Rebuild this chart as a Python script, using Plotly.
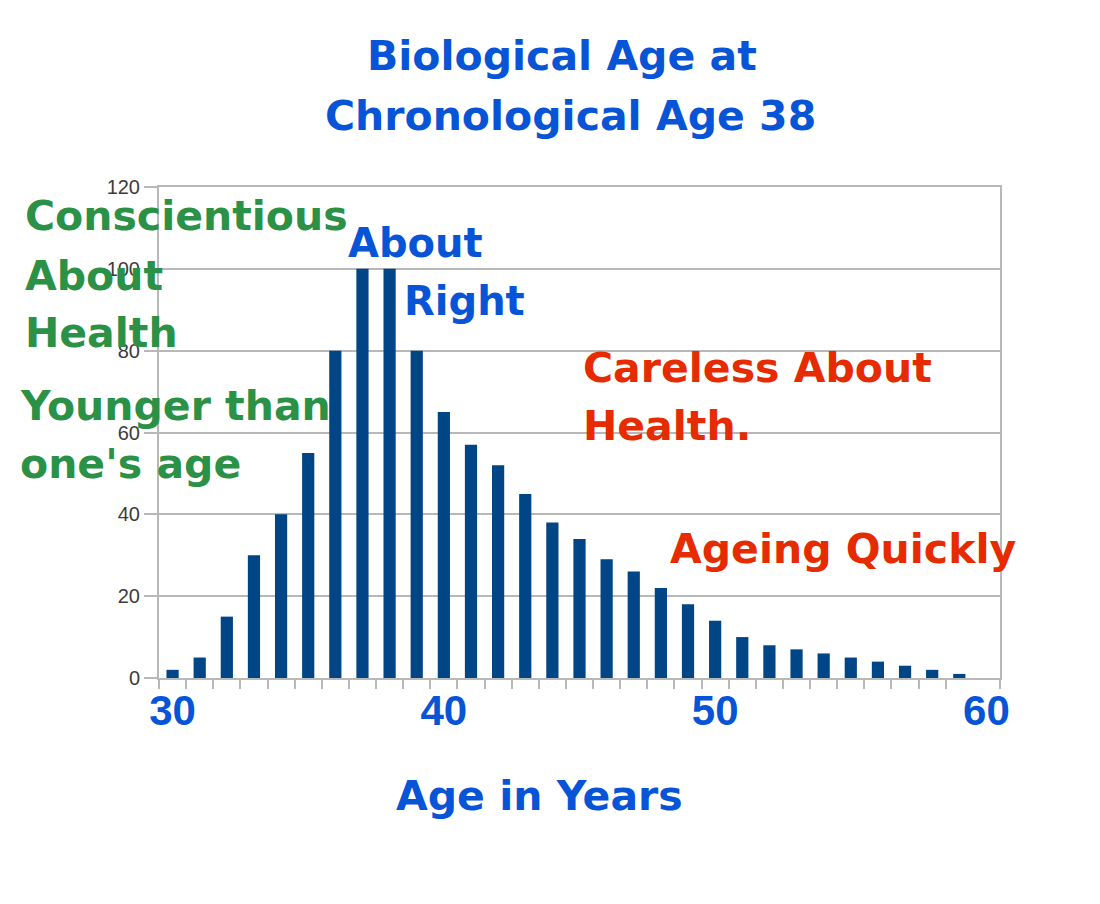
import plotly.graph_objects as go

# ages shown on the x axis and the share of people at each biological age
ages = [30, 31, 32, 33, 34, 35, 36, 37, 38, 39,
        40, 41, 42, 43, 44, 45, 46, 47, 48, 49,
        50, 51, 52, 53, 54, 55, 56, 57, 58, 59]
counts = [2, 5, 15, 30, 40, 55, 80, 100, 100, 80,
          65, 57, 52, 45, 38, 34, 29, 26, 22, 18,
          14, 10, 8, 7, 6, 5, 4, 3, 2, 1]
x_ticks = [30, 40, 50, 60]
y_ticks = [0, 20, 40, 60, 80, 100, 120]

title_lines = ["Biological Age at", "Chronological Age 38"]
green_notes = ["Conscientious", "About", "Health", "Younger than", "one's age"]
blue_notes = ["About", "Right"]
red_notes = ["Careless About", "Health.", "Ageing Quickly"]

BLUE = "#0754d6"
GREEN = "#2a9146"
RED = "#e62b00"
BAR = "#004586"
GRID = "#b8b8b8"
FONT = "DejaVu Sans"

# the page body has an 8px margin, so the figure is shifted by that much
OFF = 8
W, H = 1100 - OFF, 904 - OFF
L, T = 159 - OFF, 187 - OFF
R, B = 1100 - 1000, 904 - 678


def px(xp):
    return (xp - OFF - L) / (W - L - R)


def py(yp):
    return (H - B - (yp - OFF)) / (H - T - B)


fig = go.Figure()
fig.add_trace(go.Bar(
    x=ages,
    y=counts,
    width=0.45,
    marker=dict(color=BAR, line=dict(width=0)),
    hoverinfo="x+y",
))

notes = []


def note(text, xp, yp, color, size=41, anchor="left"):
    notes.append(dict(
        text="<b>%s</b>" % text,
        x=px(xp), y=py(yp), xref="paper", yref="paper",
        xanchor=anchor, yanchor="middle",
        showarrow=False,
        font=dict(family=FONT, size=size, color=color),
    ))


note(title_lines[0], 562, 56, BLUE, 41, "center")
note(title_lines[1], 570, 116, BLUE, 41, "center")

for text, xp, yp in zip(green_notes, [23, 23, 23, 18, 18], [216, 276, 333, 406, 464]):
    note(text, xp, yp, GREEN)
for text, xp, yp in zip(blue_notes, [346, 402], [243, 301]):
    note(text, xp, yp, BLUE, 40)
for text, xp, yp in zip(red_notes, [581, 581, 668], [368, 426, 549]):
    note(text, xp, yp, RED)

note("Age in Years", 539, 796, BLUE, 41, "center")

fig.update_layout(
    width=W, height=H,
    margin=dict(l=L, r=R, t=T, b=B, autoexpand=False),
    paper_bgcolor="white",
    plot_bgcolor="white",
    showlegend=False,
    annotations=notes,
    xaxis=dict(
        range=[29.5, 60.5],
        tickmode="array",
        tickvals=x_ticks,
        ticktext=["<b>%d</b>" % t for t in x_ticks],
        ticks="",
        ticklabelstandoff=-5,
        tickfont=dict(family="Liberation Sans", size=42, color=BLUE),
        showgrid=False,
        showline=True, linecolor=GRID, linewidth=2, mirror=True,
        minor=dict(
            tickvals=[a - 0.5 for a in ages] + [60.5],
            ticks="outside", ticklen=9, tickwidth=2, tickcolor=GRID,
            showgrid=False,
        ),
        zeroline=False,
    ),
    yaxis=dict(
        range=[0, 120],
        tickmode="array",
        tickvals=y_ticks,
        ticks="outside", ticklen=13, tickwidth=2, tickcolor=GRID,
        tickfont=dict(family="Liberation Sans", size=20, color="#3c3c3c"),
        showgrid=True, gridcolor=GRID, gridwidth=2,
        showline=True, linecolor=GRID, linewidth=2, mirror=True,
        zeroline=False,
    ),
)

fig.write_html("out.html")
